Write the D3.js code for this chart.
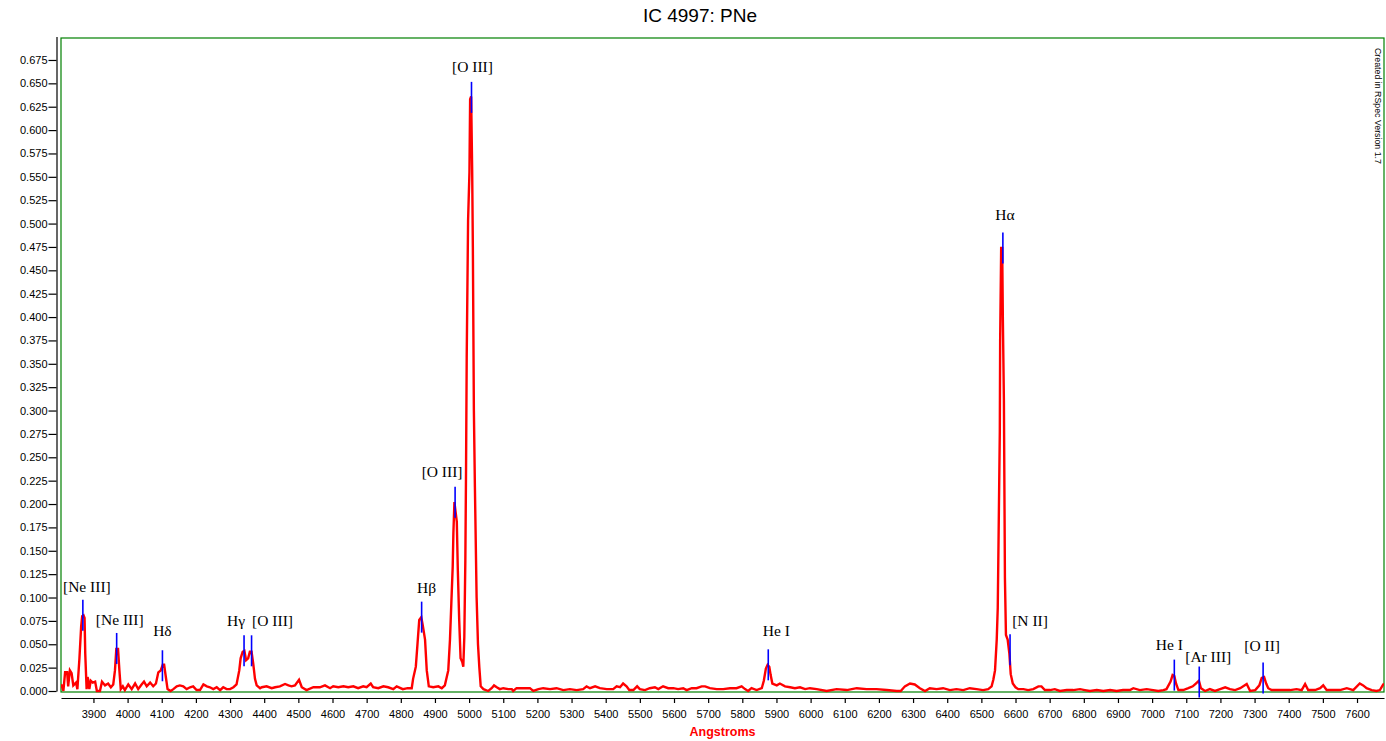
<!DOCTYPE html>
<html>
<head>
<meta charset="utf-8">
<script src="https://cdn.jsdelivr.net/npm/d3@7"></script>
<style>
  body { margin: 0; background: #fff; }
  svg { display: block; }
</style>
</head>
<body>
<svg id="chart" width="1386" height="741"></svg>
<script>
// Spectrum samples (Angstroms, relative flux).
const wavelengths = [
  3805, 3807, 3812, 3817, 3823, 3826, 3831, 3836, 3841, 3849, 3853, 3859, 3864, 3867, 3871, 3874, 3876, 3880, 3883, 3888,
  3892, 3898, 3905, 3910, 3919, 3925, 3934, 3943, 3951, 3958, 3963, 3967, 3972, 3976, 3980, 3986, 3992, 4002, 4012, 4022,
  4031, 4041, 4048, 4056, 4066, 4075, 4083, 4090, 4097, 4103, 4107, 4112, 4117, 4126, 4134, 4144, 4153, 4163, 4173, 4183,
  4192, 4202, 4212, 4222, 4232, 4241, 4251, 4261, 4271, 4280, 4290, 4300, 4310, 4319, 4327, 4331, 4337, 4342, 4347, 4353,
  4358, 4363, 4368, 4373, 4378, 4388, 4393, 4407, 4422, 4432, 4446, 4461, 4471, 4480, 4490, 4502, 4510, 4524, 4544, 4563,
  4578, 4593, 4602, 4617, 4632, 4646, 4661, 4675, 4690, 4700, 4712, 4719, 4734, 4749, 4763, 4778, 4788, 4806, 4820, 4832,
  4836, 4844, 4849, 4854, 4860, 4864, 4871, 4876, 4882, 4895, 4910, 4920, 4929, 4939, 4944, 4948, 4952, 4954, 4957, 4961,
  4964, 4967, 4971, 4975, 4980, 4983, 4986, 4989, 4991, 4993, 4997, 5001, 5003, 5006, 5009, 5011, 5014, 5017, 5022, 5026,
  5030, 5034, 5042, 5056, 5066, 5073, 5081, 5090, 5100, 5115, 5125, 5129, 5139, 5159, 5178, 5188, 5203, 5217, 5237, 5256,
  5276, 5295, 5315, 5334, 5344, 5354, 5369, 5383, 5403, 5422, 5432, 5442, 5451, 5461, 5469, 5481, 5492, 5500, 5515, 5529,
  5544, 5554, 5568, 5583, 5598, 5612, 5627, 5637, 5652, 5666, 5681, 5691, 5705, 5725, 5744, 5764, 5783, 5798, 5808, 5817,
  5827, 5842, 5857, 5863, 5869, 5874, 5879, 5883, 5888, 5901, 5910, 5925, 5940, 5954, 5969, 5984, 5998, 6018, 6047, 6076,
  6106, 6135, 6164, 6193, 6223, 6252, 6264, 6276, 6291, 6305, 6320, 6335, 6349, 6369, 6388, 6408, 6427, 6447, 6466, 6486,
  6505, 6520, 6530, 6535, 6540, 6545, 6548, 6551, 6554, 6555, 6558, 6561, 6563, 6566, 6569, 6572, 6577, 6582, 6586, 6592,
  6600, 6608, 6623, 6637, 6652, 6667, 6676, 6686, 6701, 6715, 6730, 6750, 6769, 6789, 6803, 6818, 6838, 6857, 6877, 6896,
  6915, 6935, 6945, 6964, 6984, 7003, 7018, 7033, 7042, 7054, 7060, 7065, 7070, 7077, 7091, 7106, 7119, 7128, 7137, 7143,
  7155, 7169, 7184, 7199, 7214, 7228, 7243, 7258, 7277, 7287, 7302, 7314, 7321, 7328, 7334, 7340, 7350, 7365, 7384, 7404,
  7423, 7438, 7448, 7457, 7477, 7492, 7501, 7511, 7530, 7550, 7570, 7589, 7608, 7618, 7628, 7643, 7657, 7667, 7675, 7679
];
const flux = [
  0.007, 0.006, 0.000, 0.020, 0.020, 0.005, 0.022, 0.019, 0.006, 0.009, 0.002, 0.035, 0.069, 0.080, 0.081, 0.078, 0.040, 0.002, 0.015, 0.002,
  0.011, 0.009, 0.010, 0.000, 0.000, 0.010, 0.006, 0.008, 0.004, 0.007, 0.022, 0.045, 0.045, 0.022, 0.002, 0.005, 0.001, 0.007, 0.002, 0.008,
  0.002, 0.007, 0.010, 0.005, 0.009, 0.005, 0.008, 0.020, 0.022, 0.028, 0.028, 0.015, 0.002, 0.000, 0.002, 0.005, 0.006, 0.005, 0.002, 0.004,
  0.005, 0.001, 0.001, 0.007, 0.005, 0.004, 0.002, 0.004, 0.001, 0.004, 0.002, 0.002, 0.004, 0.007, 0.022, 0.035, 0.042, 0.043, 0.033, 0.035,
  0.042, 0.042, 0.029, 0.013, 0.006, 0.003, 0.004, 0.005, 0.003, 0.004, 0.005, 0.0075, 0.006, 0.005, 0.006, 0.012, 0.004, 0.001, 0.004, 0.004,
  0.006, 0.003, 0.005, 0.004, 0.005, 0.004, 0.005, 0.003, 0.005, 0.004, 0.008, 0.004, 0.003, 0.005, 0.004, 0.002, 0.005, 0.002, 0.003, 0.003,
  0.013, 0.026, 0.051, 0.076, 0.079, 0.071, 0.055, 0.022, 0.005, 0.004, 0.005, 0.003, 0.006, 0.022, 0.055, 0.094, 0.133, 0.169, 0.202, 0.190,
  0.181, 0.129, 0.076, 0.035, 0.031, 0.026, 0.058, 0.140, 0.235, 0.357, 0.503, 0.555, 0.633, 0.636, 0.557, 0.475, 0.300, 0.218, 0.100, 0.050,
  0.025, 0.005, 0.002, 0.000, 0.003, 0.006, 0.004, 0.002, 0.003, 0.002, 0.002, 0.000, 0.003, 0.003, 0.003, 0.000, 0.002, 0.003, 0.002, 0.003,
  0.001, 0.002, 0.001, 0.002, 0.005, 0.003, 0.005, 0.003, 0.002, 0.002, 0.005, 0.004, 0.008, 0.005, 0.001, 0.001, 0.005, 0.002, 0.001, 0.003,
  0.004, 0.002, 0.005, 0.003, 0.003, 0.002, 0.003, 0.001, 0.003, 0.003, 0.005, 0.005, 0.003, 0.002, 0.002, 0.003, 0.003, 0.005, 0.002, 0.000,
  0.003, 0.001, 0.003, 0.011, 0.024, 0.028, 0.026, 0.017, 0.008, 0.006, 0.008, 0.005, 0.004, 0.003, 0.004, 0.002, 0.003, 0.002, 0.000, 0.002,
  0.001, 0.003, 0.002, 0.002, 0.001, 0.000, 0.000, 0.005, 0.008, 0.007, 0.003, 0.000, 0.003, 0.002, 0.003, 0.001, 0.002, 0.001, 0.003, 0.002,
  0.001, 0.002, 0.005, 0.012, 0.022, 0.055, 0.089, 0.183, 0.277, 0.375, 0.474, 0.474, 0.397, 0.311, 0.121, 0.060, 0.055, 0.040, 0.018, 0.008,
  0.004, 0.002, 0.002, 0.001, 0.002, 0.005, 0.005, 0.001, 0.001, 0.002, 0.000, 0.001, 0.001, 0.002, 0.001, 0.000, 0.001, 0.000, 0.001, 0.000,
  0.001, 0.001, 0.003, 0.001, 0.002, 0.001, 0.000, 0.001, 0.002, 0.010, 0.017, 0.016, 0.008, 0.001, 0.001, 0.003, 0.005, 0.008, 0.011, 0.003,
  0.000, 0.002, 0.000, 0.002, 0.004, 0.002, 0.001, 0.003, 0.0075, 0.000, 0.001, 0.006, 0.014, 0.015, 0.008, 0.003, 0.001, 0.001, 0.001, 0.001,
  0.002, 0.001, 0.0075, 0.001, 0.001, 0.003, 0.006, 0.001, 0.001, 0.001, 0.003, 0.001, 0.008, 0.006, 0.003, 0.001, 0.000, 0.001, 0.006, 0.008
];

// Identified emission lines: name, rest wavelength, flux where the marker sits.
const lineNames = ['[Ne III]', '[Ne III]', 'H\u03b4', 'H\u03b3', '[O III]', 'H\u03b2', '[O III]', '[O III]',
                   'He I', 'H\u03b1', '[N II]', 'He I', '[Ar III]', '[O II]'];
const lineWavelengths = [3869, 3968, 4102, 4341, 4363, 4861, 4959, 5007, 5876, 6563, 6584, 7065, 7138, 7325];
const lineFlux = [0.081, 0.0455, 0.027, 0.043, 0.043, 0.079, 0.202, 0.635, 0.028, 0.474, 0.044, 0.017, 0.0096, 0.014];

const xTickValues = [3900, 4000, 4100, 4200, 4300, 4400, 4500, 4600, 4700, 4800, 4900, 5000, 5100, 5200,
                     5300, 5400, 5500, 5600, 5700, 5800, 5900, 6000, 6100, 6200, 6300, 6400, 6500, 6600,
                     6700, 6800, 6900, 7000, 7100, 7200, 7300, 7400, 7500, 7600];
const yTickValues = [0, 0.025, 0.05, 0.075, 0.1, 0.125, 0.15, 0.175, 0.2, 0.225, 0.25, 0.275, 0.3, 0.325,
                     0.35, 0.375, 0.4, 0.425, 0.45, 0.475, 0.5, 0.525, 0.55, 0.575, 0.6, 0.625, 0.65, 0.675];

// Layout
const FRAME = {left: 61, top: 38, right: 1384, bottom: 692};
const MARKER_HALF_PX = 15.5;
// Label placement relative to the top of each marker, in pixels.
const LABEL_OFFSETS = [[4, -8], [3, -8], [0, -14], [-8, -9], [21, -9], [5, -9], [-13, -10], [1, -10],
                       [8, -13], [2, -12], [20, -8], [-5, -10], [9, -5], [-1, -11]];
const TICK_FONT = '"Liberation Sans", Arial, sans-serif';

const svg = d3.select('#chart');

const x = d3.scaleLinear().domain([3805, 7679]).range([FRAME.left, FRAME.right]);
const y = d3.scaleLinear().domain([0, 0.7]).range([691, 36.6]);

svg.append('text')
    .attr('x', 700).attr('y', 22)
    .attr('text-anchor', 'middle')
    .style('font-family', TICK_FONT).style('font-size', '19px')
    .text('IC 4997: PNe');

svg.append('rect')
    .attr('x', FRAME.left).attr('y', FRAME.top)
    .attr('width', FRAME.right - FRAME.left).attr('height', FRAME.bottom - FRAME.top)
    .attr('fill', 'none').attr('stroke', '#008000').attr('stroke-width', 1.2);

svg.append('clipPath').attr('id', 'plot-clip')
  .append('rect')
    .attr('x', FRAME.left).attr('y', 0)
    .attr('width', FRAME.right - FRAME.left).attr('height', FRAME.bottom + 2);

let points = wavelengths.map(function(w, i) { return [w, flux[i]]; });
let spectrumLine = d3.line()
    .x(function(d) { return x(d[0]); })
    .y(function(d) { return y(d[1]); });

svg.append('path')
    .attr('clip-path', 'url(#plot-clip)')
    .attr('d', spectrumLine(points))
    .attr('fill', 'none')
    .attr('stroke', '#ff0000')
    .attr('stroke-width', 2.4)
    .attr('stroke-linejoin', 'miter');

// Blue line markers and their labels.
let markers = svg.append('g');
lineWavelengths.forEach(function(w, i) {
  let mx = x(w);
  let my = y(lineFlux[i]);
  markers.append('line')
      .attr('x1', mx).attr('x2', mx)
      .attr('y1', my - MARKER_HALF_PX).attr('y2', my + MARKER_HALF_PX)
      .attr('stroke', '#0000ff').attr('stroke-width', 1.6);
  markers.append('text')
      .attr('x', mx + LABEL_OFFSETS[i][0])
      .attr('y', my - MARKER_HALF_PX + LABEL_OFFSETS[i][1])
      .attr('text-anchor', 'middle')
      .style('font-family', '"Liberation Serif", "Times New Roman", serif')
      .style('font-size', '15.5px')
      .text(lineNames[i]);
});

let yAxis = svg.append('g')
    .attr('transform', 'translate(56.5,0)')
    .call(d3.axisLeft(y).tickValues(yTickValues).tickFormat(d3.format('.3f'))
        .tickSize(8).tickPadding(1).tickSizeOuter(0));

let xAxis = svg.append('g')
    .attr('transform', 'translate(0,698)')
    .call(d3.axisBottom(x).tickValues(xTickValues).tickFormat(d3.format('d'))
        .tickSize(5).tickPadding(7).tickSizeOuter(0));

[yAxis, xAxis].forEach(function(g) {
  g.selectAll('text').style('font-family', TICK_FONT).style('font-size', '11px').attr('fill', '#000');
  g.selectAll('line, path').attr('stroke', '#000').attr('stroke-width', 1.2);
});

svg.append('text')
    .attr('x', 722.5).attr('y', 736)
    .attr('text-anchor', 'middle')
    .attr('fill', '#ff0000')
    .style('font-family', TICK_FONT).style('font-size', '12.5px').style('font-weight', 'bold')
    .text('Angstroms');

svg.append('text')
    .attr('transform', 'translate(1374.5,48) rotate(90)')
    .style('font-family', TICK_FONT).style('font-size', '8.8px')
    .text('Created in RSpec Version 1.7');
</script>
</body>
</html>
